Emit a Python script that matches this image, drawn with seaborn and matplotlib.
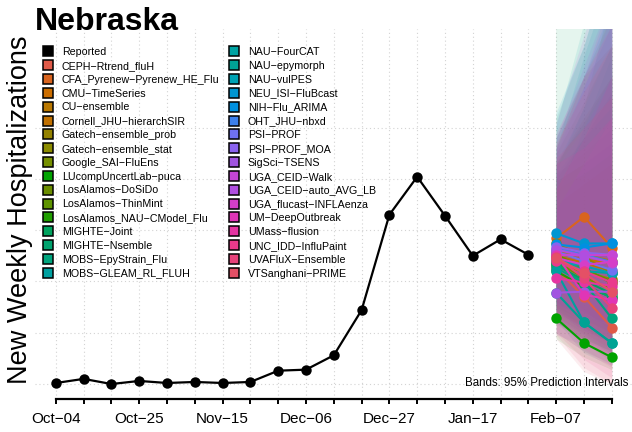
import matplotlib
matplotlib.use("Agg")
import matplotlib.pyplot as plt
from matplotlib.lines import Line2D
import pandas as pd
import seaborn as sns

sns.set_theme(style="white")
plt.rcParams["font.family"] = ["Liberation Sans", "DejaVu Sans"]
plt.rcParams["axes.unicode_minus"] = True
plt.rcParams["text.color"] = "black"
plt.rcParams["xtick.color"] = "black"
plt.rcParams["xtick.labelcolor"] = "black"

# ---- data -------------------------------------------------------------
state = "Nebraska"
week_dates = pd.date_range("2024-10-04", periods=21, freq="7D")
label_every = 3

reported = [1, 5, 0, 3, 1, 2, 1, 2, 13, 14, 28, 72, 165, 202, 164, 125, 141, 126]

models = [
    "CEPH\u2212Rtrend_fluH", "CFA_Pyrenew\u2212Pyrenew_HE_Flu", "CMU\u2212TimeSeries",
    "CU\u2212ensemble", "Cornell_JHU\u2212hierarchSIR", "Gatech\u2212ensemble_prob",
    "Gatech\u2212ensemble_stat", "Google_SAI\u2212FluEns", "LUcompUncertLab\u2212puca",
    "LosAlamos\u2212DoSiDo", "LosAlamos\u2212ThinMint", "LosAlamos_NAU\u2212CModel_Flu",
    "MIGHTE\u2212Joint", "MIGHTE\u2212Nsemble", "MOBS\u2212EpyStrain_Flu",
    "MOBS\u2212GLEAM_RL_FLUH", "NAU\u2212FourCAT", "NAU\u2212epymorph", "NAU\u2212vulPES",
    "NEU_ISI\u2212FluBcast", "NIH\u2212Flu_ARIMA", "OHT_JHU\u2212nbxd", "PSI\u2212PROF",
    "PSI\u2212PROF_MOA", "SigSci\u2212TSENS", "UGA_CEID\u2212Walk", "UGA_CEID\u2212auto_AVG_LB",
    "UGA_flucast\u2212INFLAenza", "UM\u2212DeepOutbreak", "UMass\u2212flusion",
    "UNC_IDD\u2212InfluPaint", "UVAFluX\u2212Ensemble", "VTSanghani\u2212PRIME",
]

model_colors = [
    "#E05A48", "#D9641E", "#CC6E00", "#BA7800", "#C07000", "#948200",
    "#8C8C00", "#769000", "#00A300", "#6B8E00", "#5E9400", "#1F9E00",
    "#00A35E", "#00A36E", "#00A57E", "#00A0A0", "#00A3A3", "#00A394",
    "#00A2B4", "#0096D1", "#0090E0", "#3D80EC", "#6F71F2", "#8A62EE",
    "#A154E0", "#C545D4", "#B04EE0", "#D53EC8", "#E035B6", "#E534A2",
    "#EA3A8C", "#E6427A", "#E45066",
]

# forecasts for the three weeks after the last report: median, 95% PI
fc_median = [
    [112, 85, 55], [142, 163, 133], [128, 121, 118], [130, 126, 120], [125, 118, 110],
    [137, 124, 108], [115, 110, 102], [118, 104, 92], [64, 40, 26], [120, 112, 100],
    [126, 113, 98], [110, 95, 85], [116, 101, 88], [118, 97, 84], [113, 99, 64],
    [110, 60, 40], [124, 110, 108], [89, 60, 40], [121, 115, 108], [147, 137, 137],
    [136, 133, 137], [132, 126, 119], [129, 120, 111], [134, 128, 126], [89, 90, 90],
    [126, 126, 126], [131, 125, 118], [123, 116, 119], [126, 87, 82], [103, 99, 96],
    [120, 110, 99], [124, 103, 74], [123, 108, 90],
]
fc_lower = [
    [62, 40, 22], [88, 92, 64], [80, 64, 48], [84, 70, 55], [70, 55, 40],
    [90, 72, 52], [75, 62, 50], [72, 55, 40], [44, 26, 14], [66, 50, 34],
    [74, 55, 38], [60, 44, 32], [58, 42, 30], [60, 44, 32], [64, 48, 28],
    [62, 30, 18], [70, 52, 40], [50, 32, 20], [72, 58, 45], [92, 78, 68],
    [78, 66, 58], [80, 64, 50], [78, 60, 44], [82, 68, 56], [48, 38, 28],
    [66, 48, 32], [72, 52, 36], [62, 40, 24], [66, 34, 18], [50, 32, 16],
    [50, 24, 6], [48, 16, 0], [44, 12, 0],
]
fc_upper = [
    [205, 225, 250], [230, 300, 330], [215, 260, 300], [200, 240, 285], [240, 300, 360],
    [198, 215, 235], [175, 195, 215], [190, 205, 225], [130, 140, 150], [225, 275, 330],
    [215, 255, 300], [210, 270, 380], [420, 480, 560], [260, 330, 420], [205, 240, 270],
    [230, 320, 400], [250, 350, 470], [180, 250, 320], [215, 270, 330], [265, 330, 420],
    [240, 300, 370], [230, 290, 350], [210, 250, 300], [225, 290, 360], [170, 215, 260],
    [255, 340, 420], [240, 310, 380], [230, 300, 380], [215, 230, 260], [190, 240, 300],
    [245, 300, 350], [220, 250, 280], [235, 285, 330],
]

# ---- tidy frames ------------------------------------------------------
n_obs = len(reported)
obs_df = pd.DataFrame({"week": range(n_obs), "value": reported})
fc_weeks = [n_obs, n_obs + 1, n_obs + 2]
fc_df = pd.DataFrame(
    [
        {"model": m, "week": w, "median": med[i], "lower": lo[i], "upper": hi[i]}
        for m, med, lo, hi in zip(models, fc_median, fc_lower, fc_upper)
        for i, w in enumerate(fc_weeks)
    ]
)
palette = dict(zip(models, model_colors))

# ---- figure -----------------------------------------------------------
W, H = 632, 432
fig = plt.figure(figsize=(W / 100, H / 100), dpi=100)
ax = fig.add_axes([35 / W, 33 / H, 599 / W, 370 / H])

ax.set_xlim(-0.75, 20.8)
ax.set_ylim(-14.6, 346)

# dotted grid
for w in range(len(week_dates)):
    ax.axvline(w, color="#D3D3D3", lw=0.8, ls=(0, (1, 2.5)), zorder=0)
for yv in range(0, 300, 50):
    ax.axhline(yv, color="#D3D3D3", lw=0.8, ls=(0, (1, 2.5)), zorder=0)

# prediction bands
for m in models:
    sub = fc_df[fc_df["model"] == m]
    ax.fill_between(sub["week"], sub["lower"], sub["upper"],
                    color=palette[m], alpha=0.1, lw=0, zorder=1)

# reported series
sns.lineplot(data=obs_df, x="week", y="value", color="black", marker="o",
             markersize=7.5, markeredgewidth=0, linewidth=1.6, ax=ax, zorder=3)

# model medians
sns.lineplot(data=fc_df, x="week", y="median", hue="model", hue_order=models,
             palette=palette, marker="o", markersize=7.5, markeredgewidth=0,
             linewidth=1.5, legend=False, sort=False, ax=ax, zorder=4)

# axes styling
for side in ("left", "top", "right"):
    ax.spines[side].set_visible(False)
ax.spines["bottom"].set_linewidth(1.6)
ax.spines["bottom"].set_color("black")
ax.spines["bottom"].set_bounds(0, len(week_dates) - 1)
ax.set_yticks([])
ax.set_xticks(range(len(week_dates)))
ax.set_xticklabels([
    d.strftime("%b\u2212%d") if i % label_every == 0 else ""
    for i, d in enumerate(week_dates)
])
ax.tick_params(axis="x", direction="out", length=3.5, width=1.4, color="black",
               labelcolor="black", labelsize=11, pad=6, bottom=True)
ax.set_xlabel("")
ax.set_ylabel("")

fig.text(20 / W, 1 - 210 / H, "New Weekly Hospitalizations", rotation=90,
         ha="center", va="center", fontsize=19.5, color="black")
fig.text(35 / W, 1 - 30 / H, state, ha="left", va="baseline",
         fontsize=23, fontweight="bold", color="black")
ax.text(0.99, 0.043, "Bands: 95% Prediction Intervals", transform=ax.transAxes,
        ha="right", va="center", fontsize=8.3, color="black")

# legend in two columns
def handle(c):
    return Line2D([], [], marker="s", ls="", markersize=7, markerfacecolor=c,
                  markeredgecolor="black", markeredgewidth=1.1)

left_labels = ["Reported"] + models[:16]
left_colors = ["black"] + model_colors[:16]
right_labels = models[16:]
right_colors = model_colors[16:]

leg_kw = dict(loc="upper left", frameon=False, fontsize=7.7, handlelength=1.0,
              handletextpad=0.8, labelspacing=0.36, borderpad=0, borderaxespad=0,
              bbox_transform=fig.transFigure, labelcolor="black")
leg1 = ax.legend([handle(c) for c in left_colors], left_labels,
                 bbox_to_anchor=(42.5 / W, 1 - 47 / H), **leg_kw)
ax.add_artist(leg1)
ax.legend([handle(c) for c in right_colors], right_labels,
          bbox_to_anchor=(228.5 / W, 1 - 47 / H), **leg_kw)

fig.savefig("out.png", dpi=100)
